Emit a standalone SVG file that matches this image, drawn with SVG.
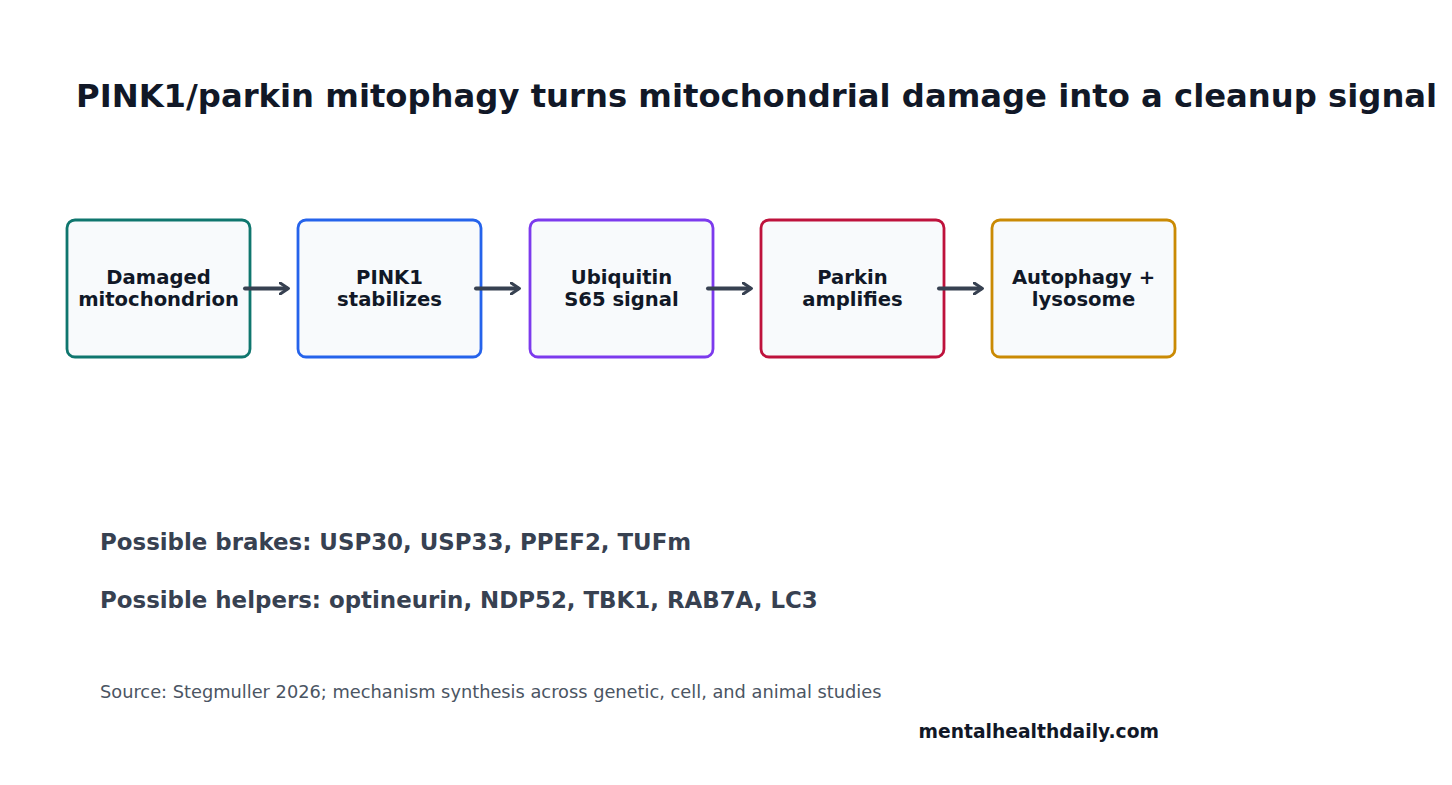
<svg xmlns="http://www.w3.org/2000/svg" width="1452" height="785" viewBox="0 0 1452 785">
<defs>
<style>
.t{font-family:"DejaVu Sans",sans-serif;font-weight:bold;}
.box{fill:#f8fafc;stroke-width:2.8;}
.lbl{font-family:"DejaVu Sans",sans-serif;font-weight:bold;font-size:19.6px;fill:#111827;text-anchor:middle;}
.arr{stroke:#374151;stroke-width:4;fill:none;stroke-linecap:round;marker-end:url(#ah);}
</style>
<marker id="ah" viewBox="0 0 10 10" refX="6" refY="5" markerWidth="3.4" markerHeight="3.4" orient="auto" markerUnits="strokeWidth">
<path d="M1,1 L7,5 L1,9" fill="none" stroke="#374151" stroke-width="2.3" stroke-linecap="round" stroke-linejoin="round"/>
</marker>
</defs>
<rect width="1452" height="785" fill="#ffffff"/>
<text class="t" x="76" y="107" font-size="32.25" fill="#111827">PINK1/parkin mitophagy turns mitochondrial damage into a cleanup signal</text>
<g id="n1"><rect class="box" x="67" y="220" width="183" height="137" rx="8" stroke="#0f766e"/><text class="lbl" x="158.5" y="284">Damaged</text><text class="lbl" x="158.5" y="306">mitochondrion</text></g>
<g id="n2"><rect class="box" x="298" y="220" width="183" height="137" rx="8" stroke="#2563eb"/><text class="lbl" x="389.5" y="284">PINK1</text><text class="lbl" x="389.5" y="306">stabilizes</text></g>
<g id="n3"><rect class="box" x="530" y="220" width="183" height="137" rx="8" stroke="#7c3aed"/><text class="lbl" x="621.5" y="284">Ubiquitin</text><text class="lbl" x="621.5" y="306">S65 signal</text></g>
<g id="n4"><rect class="box" x="761" y="220" width="183" height="137" rx="8" stroke="#be123c"/><text class="lbl" x="852.5" y="284">Parkin</text><text class="lbl" x="852.5" y="306">amplifies</text></g>
<g id="n5"><rect class="box" x="992" y="220" width="183" height="137" rx="8" stroke="#ca8a04"/><text class="lbl" x="1083.5" y="284">Autophagy +</text><text class="lbl" x="1083.5" y="306">lysosome</text></g>
<g id="connectors">
<line class="arr" x1="245" y1="288.5" x2="287" y2="288.5"/>
<line class="arr" x1="476" y1="288.5" x2="518" y2="288.5"/>
<line class="arr" x1="708" y1="288.5" x2="750" y2="288.5"/>
<line class="arr" x1="939" y1="288.5" x2="981" y2="288.5"/>
</g>
<text class="t" x="100" y="550" font-size="22.9" fill="#374151">Possible brakes: USP30, USP33, PPEF2, TUFm</text>
<text class="t" x="100" y="608" font-size="22.9" fill="#374151">Possible helpers: optineurin, NDP52, TBK1, RAB7A, LC3</text>
<text x="100" y="698" font-family="DejaVu Sans, sans-serif" font-size="17.8" fill="#4b5563">Source: Stegmuller 2026; mechanism synthesis across genetic, cell, and animal studies</text>
<text class="t" x="1159" y="738" font-size="18.7" fill="#111827" text-anchor="end">mentalhealthdaily.com</text>
</svg>
